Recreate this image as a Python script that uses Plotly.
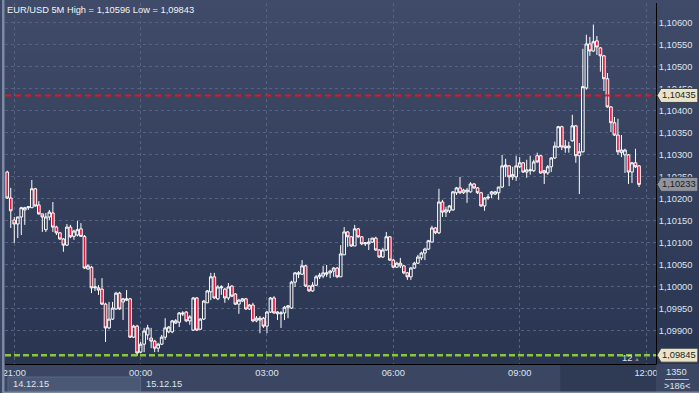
import plotly.graph_objects as go
import pandas as pd

# ---------------- data (EUR/USD, 5-minute candles) ----------------
start_time = "2015-12-14 20:50"

opens = [
    1.10261, 1.10202, 1.10152, 1.10143, 1.10159, 1.10175, 1.10180, 1.10180, 1.10223, 1.10186,
    1.10166, 1.10130, 1.10159, 1.10168, 1.10136, 1.10123, 1.10109, 1.10095, 1.10136, 1.10115,
    1.10118, 1.10132, 1.10115, 1.10041, 1.10045, 1.09998, 1.09998, 1.09995, 1.09961, 1.09907,
    1.09927, 1.09950, 1.09986, 1.09966, 1.09970, 1.09973, 1.09886, 1.09911, 1.09852, 1.09870,
    1.09891, 1.09884, 1.09877, 1.09861, 1.09870, 1.09886, 1.09898, 1.09898, 1.09918, 1.09920,
    1.09941, 1.09943, 1.09923, 1.09902, 1.09975, 1.09904, 1.09927, 1.09964, 1.09989, 1.10023,
    1.09973, 1.09998, 1.09995, 1.09975, 1.10002, 1.09984, 1.09961, 1.09968, 1.09973, 1.09950,
    1.09959, 1.09923, 1.09925, 1.09929, 1.09911, 1.09943, 1.09975, 1.09939, 1.09939, 1.09941,
    1.09954, 1.09952, 1.10011, 1.10029, 1.10029, 1.10048, 1.10002, 1.09991, 1.10004, 1.10023,
    1.10025, 1.10029, 1.10032, 1.10036, 1.10043, 1.10023, 1.10073, 1.10125, 1.10114, 1.10093,
    1.10132, 1.10114, 1.10098, 1.10098, 1.10102, 1.10111, 1.10084, 1.10068, 1.10084, 1.10114,
    1.10061, 1.10045, 1.10048, 1.10048, 1.10032, 1.10023, 1.10043, 1.10054, 1.10066, 1.10077,
    1.10086, 1.10102, 1.10134, 1.10123, 1.10193, 1.10170, 1.10173, 1.10175, 1.10214, 1.10225,
    1.10214, 1.10216, 1.10216, 1.10234, 1.10225, 1.10214, 1.10184, 1.10202, 1.10211, 1.10211,
    1.10214, 1.10227, 1.10273, 1.10275, 1.10250, 1.10250, 1.10273, 1.10282, 1.10261, 1.10264,
    1.10264, 1.10298, 1.10298, 1.10264, 1.10259, 1.10273, 1.10293, 1.10318, 1.10364, 1.10320,
    1.10316, 1.10332, 1.10366, 1.10298, 1.10307, 1.10452, 1.10552, 1.10536, 1.10559, 1.10543,
    1.10525, 1.10473, 1.10409, 1.10373, 1.10345, 1.10305, 1.10300, 1.10300, 1.10261, 1.10282,
    1.10275,
]

highs = [
    1.10264, 1.10225, 1.10159, 1.10159, 1.10182, 1.10182, 1.10184, 1.10243, 1.10225, 1.10195,
    1.10166, 1.10168, 1.10175, 1.10193, 1.10139, 1.10125, 1.10111, 1.10143, 1.10141, 1.10130,
    1.10150, 1.10145, 1.10118, 1.10052, 1.10048, 1.10020, 1.10004, 1.10020, 1.09964, 1.09966,
    1.09966, 1.09989, 1.09989, 1.09975, 1.09993, 1.09975, 1.09914, 1.09914, 1.09875, 1.09907,
    1.09914, 1.09907, 1.09880, 1.09873, 1.09891, 1.09929, 1.09911, 1.09925, 1.09927, 1.09943,
    1.09945, 1.09945, 1.09936, 1.09977, 1.09977, 1.09929, 1.09970, 1.09993, 1.10032, 1.10032,
    1.10004, 1.10004, 1.09998, 1.10009, 1.10004, 1.09986, 1.09973, 1.09975, 1.09975, 1.09961,
    1.09964, 1.09934, 1.09934, 1.09932, 1.09945, 1.09977, 1.09979, 1.09945, 1.09945, 1.09957,
    1.09959, 1.10014, 1.10034, 1.10036, 1.10061, 1.10050, 1.10004, 1.10011, 1.10027, 1.10032,
    1.10048, 1.10050, 1.10039, 1.10045, 1.10045, 1.10095, 1.10136, 1.10127, 1.10115, 1.10141,
    1.10134, 1.10115, 1.10102, 1.10111, 1.10111, 1.10114, 1.10086, 1.10089, 1.10125, 1.10115,
    1.10064, 1.10057, 1.10066, 1.10050, 1.10034, 1.10045, 1.10057, 1.10073, 1.10080, 1.10089,
    1.10107, 1.10139, 1.10136, 1.10223, 1.10198, 1.10182, 1.10186, 1.10218, 1.10227, 1.10250,
    1.10223, 1.10225, 1.10238, 1.10236, 1.10227, 1.10216, 1.10204, 1.10211, 1.10218, 1.10218,
    1.10227, 1.10300, 1.10291, 1.10277, 1.10273, 1.10298, 1.10295, 1.10284, 1.10289, 1.10298,
    1.10289, 1.10305, 1.10300, 1.10266, 1.10277, 1.10295, 1.10330, 1.10366, 1.10366, 1.10334,
    1.10330, 1.10391, 1.10368, 1.10327, 1.10541, 1.10573, 1.10568, 1.10596, 1.10570, 1.10545,
    1.10527, 1.10486, 1.10411, 1.10386, 1.10382, 1.10345, 1.10314, 1.10302, 1.10284, 1.10314,
    1.10277,
]

lows = [
    1.10200, 1.10134, 1.10100, 1.10111, 1.10118, 1.10141, 1.10175, 1.10180, 1.10182, 1.10164,
    1.10125, 1.10125, 1.10152, 1.10125, 1.10118, 1.10107, 1.10080, 1.10093, 1.10111, 1.10107,
    1.10115, 1.10114, 1.10041, 1.10039, 1.09986, 1.09991, 1.09982, 1.09959, 1.09875, 1.09904,
    1.09925, 1.09948, 1.09948, 1.09925, 1.09968, 1.09884, 1.09884, 1.09843, 1.09850, 1.09852,
    1.09880, 1.09861, 1.09852, 1.09852, 1.09868, 1.09880, 1.09895, 1.09895, 1.09916, 1.09909,
    1.09934, 1.09920, 1.09914, 1.09900, 1.09900, 1.09902, 1.09925, 1.09964, 1.09970, 1.09973,
    1.09970, 1.09982, 1.09964, 1.09970, 1.09977, 1.09959, 1.09939, 1.09966, 1.09948, 1.09948,
    1.09920, 1.09920, 1.09895, 1.09907, 1.09895, 1.09941, 1.09939, 1.09925, 1.09907, 1.09925,
    1.09929, 1.09950, 1.10000, 1.10020, 1.10027, 1.10000, 1.09989, 1.09989, 1.10002, 1.10018,
    1.10020, 1.10023, 1.10020, 1.10023, 1.10020, 1.10023, 1.10073, 1.10091, 1.10091, 1.10093,
    1.10111, 1.10095, 1.10093, 1.10084, 1.10100, 1.10082, 1.10066, 1.10066, 1.10082, 1.10059,
    1.10043, 1.10043, 1.10043, 1.10029, 1.10016, 1.10016, 1.10041, 1.10052, 1.10061, 1.10061,
    1.10084, 1.10102, 1.10120, 1.10120, 1.10159, 1.10159, 1.10168, 1.10173, 1.10209, 1.10211,
    1.10211, 1.10191, 1.10214, 1.10223, 1.10211, 1.10182, 1.10173, 1.10198, 1.10202, 1.10209,
    1.10198, 1.10225, 1.10250, 1.10229, 1.10243, 1.10241, 1.10270, 1.10259, 1.10248, 1.10255,
    1.10261, 1.10282, 1.10257, 1.10234, 1.10255, 1.10261, 1.10291, 1.10316, 1.10311, 1.10305,
    1.10305, 1.10330, 1.10282, 1.10211, 1.10305, 1.10448, 1.10525, 1.10534, 1.10527, 1.10489,
    1.10445, 1.10407, 1.10352, 1.10343, 1.10300, 1.10295, 1.10259, 1.10234, 1.10236, 1.10270,
    1.10227,
]

closes = [
    1.10202, 1.10173, 1.10143, 1.10159, 1.10180, 1.10180, 1.10182, 1.10223, 1.10184, 1.10166,
    1.10159, 1.10159, 1.10170, 1.10136, 1.10123, 1.10109, 1.10095, 1.10136, 1.10114, 1.10127,
    1.10130, 1.10115, 1.10043, 1.10048, 1.09998, 1.10000, 1.09993, 1.09961, 1.09907, 1.09927,
    1.09952, 1.09986, 1.09950, 1.09973, 1.09973, 1.09886, 1.09911, 1.09850, 1.09870, 1.09900,
    1.09907, 1.09877, 1.09861, 1.09870, 1.09886, 1.09907, 1.09909, 1.09923, 1.09923, 1.09941,
    1.09939, 1.09923, 1.09932, 1.09975, 1.09902, 1.09927, 1.09968, 1.09991, 1.10023, 1.09975,
    1.10000, 1.10000, 1.09975, 1.10000, 1.09979, 1.09961, 1.09970, 1.09973, 1.09950, 1.09959,
    1.09923, 1.09929, 1.09929, 1.09911, 1.09943, 1.09975, 1.09941, 1.09943, 1.09941, 1.09954,
    1.09957, 1.10011, 1.10032, 1.10032, 1.10048, 1.10002, 1.09991, 1.10004, 1.10023, 1.10027,
    1.10032, 1.10032, 1.10036, 1.10043, 1.10023, 1.10075, 1.10125, 1.10114, 1.10093, 1.10132,
    1.10114, 1.10098, 1.10100, 1.10102, 1.10111, 1.10084, 1.10068, 1.10084, 1.10114, 1.10061,
    1.10045, 1.10054, 1.10054, 1.10032, 1.10023, 1.10043, 1.10054, 1.10068, 1.10077, 1.10086,
    1.10105, 1.10134, 1.10123, 1.10193, 1.10170, 1.10175, 1.10184, 1.10216, 1.10225, 1.10214,
    1.10220, 1.10220, 1.10234, 1.10225, 1.10214, 1.10184, 1.10202, 1.10204, 1.10216, 1.10216,
    1.10227, 1.10275, 1.10277, 1.10250, 1.10255, 1.10275, 1.10282, 1.10261, 1.10266, 1.10266,
    1.10284, 1.10284, 1.10259, 1.10259, 1.10273, 1.10293, 1.10320, 1.10364, 1.10318, 1.10316,
    1.10320, 1.10366, 1.10298, 1.10307, 1.10455, 1.10552, 1.10536, 1.10557, 1.10545, 1.10525,
    1.10473, 1.10409, 1.10373, 1.10345, 1.10307, 1.10311, 1.10311, 1.10261, 1.10282, 1.10273,
    1.10233,
]

x_tick_vals = ["2015-12-14 21:00", "2015-12-15 00:00", "2015-12-15 03:00",
               "2015-12-15 06:00", "2015-12-15 09:00", "2015-12-15 12:00"]
x_tick_text = ["21:00", "00:00", "03:00", "06:00", "09:00", "12:00"]
y_tick_vals = [1.09900, 1.09950, 1.10000, 1.10050, 1.10100, 1.10150, 1.10200, 1.10250,
               1.10300, 1.10350, 1.10400, 1.10450, 1.10500, 1.10550, 1.10600]
date_labels = ["14.12.15", "15.12.15"]
title_text = "EUR/USD 5M High = 1,10596 Low = 1,09843"
level_high = 1.10435
level_low = 1.09845
last_price = 1.10233

times = pd.date_range(start_time, periods=len(opens), freq="5min")

# ---------------- styling ----------------
FONT = "Liberation Sans, Arial, sans-serif"
STRIP = "#3b4762"
TOP = (63, 75, 104)
BOT = (41, 53, 81)
GRID = "#56637f"
RED = "#e3163c"
TXT = "#dfe4ee"
FS = 9.3

fig = go.Figure()
fig.add_trace(go.Candlestick(
    x=times, open=opens, high=highs, low=lows, close=closes,
    increasing=dict(line=dict(color="#ffffff", width=1), fillcolor="rgba(0,0,0,0)"),
    decreasing=dict(line=dict(color="#ffffff", width=1), fillcolor=RED),
    whiskerwidth=0, hoverinfo="skip", showlegend=False,
))

W, H = 699, 393
L, R, T, B = 3, 43, 3, 29
pw, ph = W - L - R, H - T - B


def px_x(p):
    return (p - L) / pw


def px_y(p):
    return (H - B - p) / ph


shapes = []
# vertical gradient background (plot + right axis area)
nb = 40
for k in range(nb):
    f = (k + 0.5) / nb
    c = tuple(int(round(TOP[j] + (BOT[j] - TOP[j]) * f)) for j in range(3))
    y_top = px_y((H - B) * k / nb)
    y_bot = px_y((H - B) * (k + 1) / nb)
    shapes.append(dict(type="rect", xref="paper", yref="paper", x0=px_x(0), x1=px_x(W),
                       y0=y_bot, y1=y_top + 0.001, fillcolor="rgb(%d,%d,%d)" % c,
                       line=dict(width=0), layer="below"))
# date box
shapes.append(dict(type="rect", xref="paper", yref="paper", x0=px_x(6), x1=px_x(139),
                   y0=px_y(391), y1=px_y(377), fillcolor="#4a5874",
                   line=dict(color="#58668a", width=1), layer="below"))
# darker right part of time strip
shapes.append(dict(type="rect", xref="paper", yref="paper", x0=px_x(560), x1=px_x(656),
                   y0=px_y(393), y1=px_y(365), fillcolor="#2f3a55",
                   line=dict(width=0), layer="below"))
# level lines
shapes.append(dict(type="line", xref="paper", yref="y", x0=0, x1=1, y0=level_high, y1=level_high,
                   line=dict(color="#e8141e", width=2, dash="6px,4px"), layer="above"))
shapes.append(dict(type="line", xref="paper", yref="y", x0=0, x1=1, y0=level_low, y1=level_low,
                   line=dict(color="#8cc43c", width=2.5, dash="6px,3px"), layer="above"))
# corner cover (right of the time axis)
shapes.append(dict(type="rect", xref="paper", yref="paper", x0=px_x(656.6), x1=px_x(W + 2),
                   y0=px_y(H + 2), y1=px_y(364.6), fillcolor=STRIP,
                   line=dict(width=0), layer="above"))
shapes.append(dict(type="line", xref="paper", yref="paper", x0=px_x(665), x1=px_x(689),
                   y0=px_y(379.5), y1=px_y(379.5), line=dict(color="#b8c2d4", width=1),
                   layer="above"))
# frame
shapes.append(dict(type="rect", xref="paper", yref="paper", x0=px_x(0), x1=px_x(2.5),
                   y0=px_y(H), y1=px_y(0), fillcolor="#7d8ba6", line=dict(width=0), layer="above"))
shapes.append(dict(type="rect", xref="paper", yref="paper", x0=px_x(0), x1=px_x(W),
                   y0=px_y(H), y1=px_y(391.5), fillcolor="#7d8ba6", line=dict(width=0), layer="above"))

# price tags
dy = 7 * 0.0005 / 22
tip, b0, b1 = px_x(657), px_x(661), px_x(698)
for val, col in [(level_high, "#e9e4c8"), (last_price, "#8f949e"), (level_low, "#e9e4c8")]:
    path = "M %f,%f L %f,%f L %f,%f L %f,%f L %f,%f Z" % (
        tip, val, b0, val + dy, b1, val + dy, b1, val - dy, b0, val - dy)
    shapes.append(dict(type="path", xref="paper", yref="y", path=path, fillcolor=col,
                       line=dict(color="#3a3f4a", width=1), layer="above"))


def note(text, x, y, xanchor="left", size=FS, color=TXT, yref="paper"):
    return dict(text=text, xref="paper", yref=yref, x=x, y=y, xanchor=xanchor,
                yanchor="middle", showarrow=False, borderpad=0,
                font=dict(family=FONT, size=size, color=color))


annotations = [note(title_text, px_x(4), px_y(10), color="#f2f4f8")]
for val in [level_high, last_price, level_low]:
    annotations.append(note(("%.5f" % val).replace(".", ","), px_x(679.5), val,
                            xanchor="center", color="#1c1c1c", yref="y"))
annotations.append(note(date_labels[0], px_x(10), px_y(384)))
annotations.append(note(date_labels[1], px_x(143), px_y(384)))
annotations.append(note("12", px_x(627), px_y(358), xanchor="center"))
annotations.append(note("▲", px_x(637), px_y(359), xanchor="center", size=6, color="#7c8598"))
annotations.append(note("1350", px_x(677), px_y(372), xanchor="center"))
annotations.append(note("&gt;186&lt;", px_x(677), px_y(386), xanchor="center"))

fig.update_layout(
    width=W, height=H,
    margin=dict(l=L, r=R, t=T, b=B, pad=0),
    paper_bgcolor=STRIP, plot_bgcolor="rgba(0,0,0,0)",
    separators=",.",
    boxgap=0.2, boxgroupgap=0.05,
    shapes=shapes, annotations=annotations,
    showlegend=False,
    font=dict(family=FONT, size=FS, color=TXT),
    xaxis=dict(
        type="date", range=["2015-12-14 20:46:48", "2015-12-15 12:14:13"],
        tickvals=x_tick_vals, ticktext=x_tick_text,
        showgrid=True, gridcolor=GRID, griddash="3px,3px", gridwidth=1,
        showline=True, linecolor="#000000", linewidth=1,
        ticks="", zeroline=False, rangeslider=dict(visible=False),
        tickfont=dict(family=FONT, size=FS, color=TXT),
        fixedrange=True,
    ),
    yaxis=dict(
        side="right", range=[1.09825, 1.10645],
        tickvals=y_tick_vals, tickformat=".5f",
        showgrid=True, gridcolor=GRID, griddash="3px,3px", gridwidth=1,
        showline=True, linecolor="#000000", linewidth=1,
        ticks="", zeroline=False, ticklabelstandoff=0,
        tickfont=dict(family=FONT, size=FS, color=TXT),
        fixedrange=True,
    ),
)

fig.write_html(
    "out.html",
    config={"displayModeBar": False, "staticPlot": True},
    post_script="document.body.style.margin='0px';document.body.style.overflow='hidden';",
)
